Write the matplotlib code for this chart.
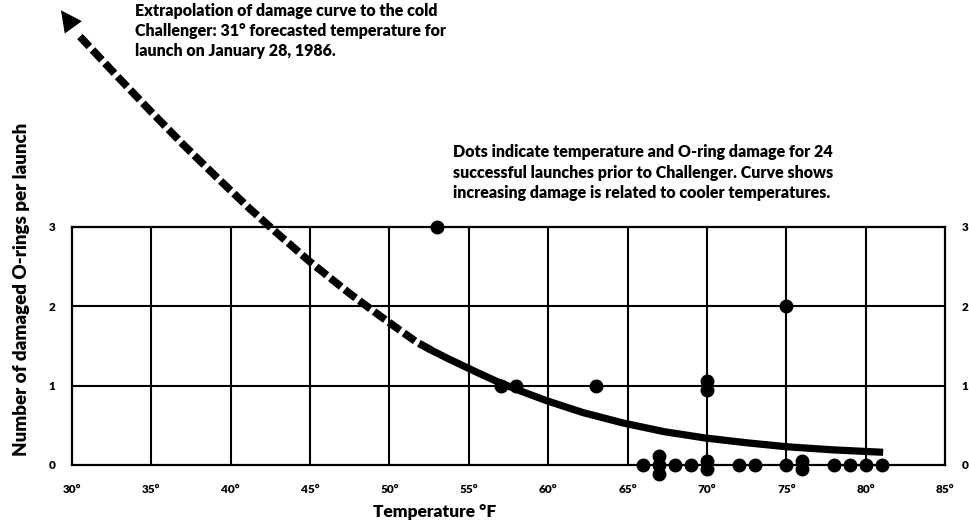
import matplotlib.pyplot as plt
import numpy as np

# Data: 24 launches prior to Challenger (temperature F, damaged O-rings)
temps = [53, 57, 58, 63, 70, 70, 75,
         66, 67, 67, 67, 68, 69, 70, 70, 72, 73, 75, 76, 76, 78, 79, 80, 81]
damage = [3, 1, 1, 1, 1, 1, 2,
          0, 0, 0, 0, 0, 0, 0, 0, 0, 0, 0, 0, 0, 0, 0, 0, 0]

# Damage curve: dashed extrapolation, then solid fit
curve_dash_x = [30.5, 32.8, 34.9, 37.0, 39.1, 41.2, 43.1, 45.0, 47.5, 49.6, 51.7, 52.8]
curve_dash_y = [5.40, 4.91, 4.47, 4.04, 3.63, 3.23, 2.89, 2.56, 2.16, 1.85, 1.55, 1.43]
curve_solid_x = [52.6, 53.8, 55.7, 56.8, 58.3, 59.9, 62.2, 64.7, 67.3, 69.9, 72.5, 75.0, 78.0, 81.1]
curve_solid_y = [1.45, 1.33, 1.15, 1.05, 0.93, 0.81, 0.66, 0.53, 0.42, 0.34, 0.28, 0.23, 0.19, 0.16]
arrow_tip = (29.2, 5.76)

x_ticks = [30, 35, 40, 45, 50, 55, 60, 65, 70, 75, 80, 85]
y_ticks = [0, 1, 2, 3]

plt.rcParams['font.family'] = ['Lato', 'DejaVu Sans']

fig = plt.figure(figsize=(9.69, 5.26), dpi=100)
ax = fig.add_axes([0.0743, 0.116, 0.901, 0.4525])

ax.set_xlim(30, 85)
ax.set_ylim(0, 3)

# grid
for xv in x_ticks[1:-1]:
    ax.axvline(xv, color='black', lw=1.5, zorder=1)
for yv in y_ticks[1:-1]:
    ax.axhline(yv, color='black', lw=1.5, zorder=1)
for s in ax.spines.values():
    s.set_linewidth(1.6)

# stack dots sharing the same temperature and damage
pts = {}
for t, d in zip(temps, damage):
    pts.setdefault((t, d), 0)
    pts[(t, d)] += 1
px, py = [], []
step = 0.11
for (t, d), k in pts.items():
    for i in range(k):
        px.append(t)
        py.append(d + step * ((k - 1) / 2 - i))
ax.plot(px, py, 'o', color='black', ms=9, clip_on=False, zorder=4)

# curve
ax.plot(curve_dash_x, curve_dash_y, color='black', lw=5.5, dashes=(1.8, 0.6),
        solid_capstyle='butt', dash_capstyle='butt', solid_joinstyle='round',
        dash_joinstyle='round', clip_on=False, zorder=3)
ax.plot(curve_solid_x, curve_solid_y, color='black', lw=5.2, clip_on=False,
        solid_capstyle='butt', solid_joinstyle='round', zorder=3)
ax.annotate('', xy=arrow_tip, xytext=(curve_dash_x[0], curve_dash_y[0]),
            arrowprops=dict(arrowstyle='-|>', mutation_scale=38, color='black', lw=0),
            annotation_clip=False)

# ticks
ax.set_xticks(x_ticks)
ax.set_xticklabels([f'{v}°' for v in x_ticks], fontsize=8.5, fontweight='heavy')
ax.set_yticks(y_ticks)
ax.set_yticklabels([str(v) for v in y_ticks], fontsize=8.5, fontweight='heavy')
ax.tick_params(length=0, pad=14)
ax.tick_params(axis='y', pad=12, labelright=True)

# labels
fig.text(0.449, 0.027, 'Temperature °F', ha='center', va='center',
         fontsize=12.5, fontweight='heavy')
fig.text(0.022, 0.449, 'Number of damaged O-rings per launch', rotation=90,
         ha='center', va='center', fontsize=13.5, fontweight='heavy')

fig.text(0.139, 0.994,
         'Extrapolation of damage curve to the cold\n'
         'Challenger: 31° forecasted temperature for\n'
         'launch on January 28, 1986.',
         ha='left', va='top', fontsize=11.5, fontweight='heavy', linespacing=1.32)
fig.text(0.467, 0.727,
         'Dots indicate temperature and O-ring damage for 24\n'
         'successful launches prior to Challenger. Curve shows\n'
         'increasing damage is related to cooler temperatures.',
         ha='left', va='top', fontsize=11.5, fontweight='heavy', linespacing=1.38)

fig.savefig('out.png', dpi=100)
